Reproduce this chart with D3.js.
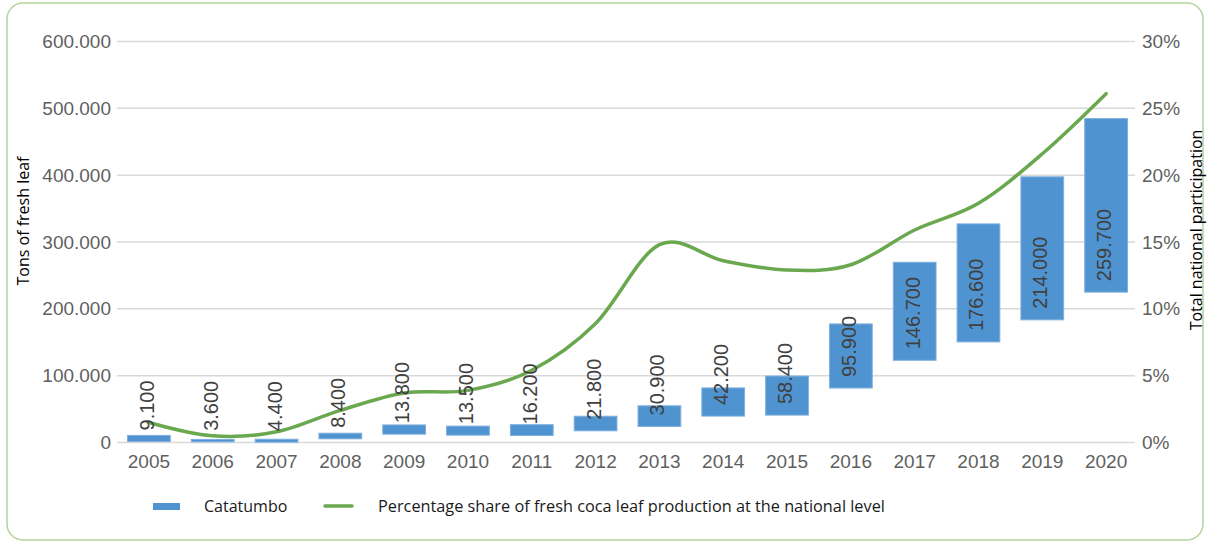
<!DOCTYPE html>
<html>
<head>
<meta charset="utf-8">
<script src="https://cdn.jsdelivr.net/npm/d3@7"></script>
<style>
  body { margin: 0; background: #fff; }
  svg text { font-family: "Liberation Sans", Arial, sans-serif; }
  .legend text, .axis-title { font-family: "Open Sans", sans-serif; }
</style>
</head>
<body>
<svg id="chart" width="1207" height="543"></svg>
<script>
// years on the x axis
const years = [2005, 2006, 2007, 2008, 2009, 2010, 2011, 2012, 2013, 2014, 2015, 2016, 2017, 2018, 2019, 2020];
// Catatumbo tons of fresh leaf (bar labels / bar heights)
const catatumbo = [9100, 3600, 4400, 8400, 13800, 13500, 16200, 21800, 30900, 42200, 58400, 95900, 146700, 176600, 214000, 259700];
// bars float: where each bar starts
const barBase = [1500, 1000, 500, 5500, 12500, 11000, 10500, 17500, 24000, 39500, 41000, 81500, 123000, 150500, 183500, 225000];
// percentage share of national production (right axis)
const share = [1.5, 0.5, 0.8, 2.4, 3.7, 3.9, 5.4, 8.9, 14.8, 13.6, 12.9, 13.3, 15.9, 17.9, 21.6, 26.1];
const leftTicks = [0, 100000, 200000, 300000, 400000, 500000, 600000];
const rightTicks = [0, 5, 10, 15, 20, 25, 30];

const svg = d3.select('#chart');

const plotLeft = 117, plotRight = 1138, plotTop = 41.5, plotBottom = 442.5;

const locale = d3.formatLocale({ decimal: ',', thousands: '.', grouping: [3], currency: ['', ''] });
const fmt = locale.format(',d');

const xScale = d3.scaleBand().domain(years).range([plotLeft, plotRight])
    .paddingInner(0.33).paddingOuter(0.165);
const yScale = d3.scaleLinear().domain([0, 600000]).range([plotBottom, plotTop]);
const y2Scale = d3.scaleLinear().domain([0, 30]).range([plotBottom, plotTop]);

// rounded frame
svg.append('rect')
    .attr('x', 7).attr('y', 3).attr('width', 1196).attr('height', 537)
    .attr('rx', 16)
    .attr('fill', 'none')
    .attr('stroke', '#b4d49c')
    .attr('stroke-width', 1.5);

// grid lines
svg.append('g')
    .selectAll('line')
    .data(leftTicks)
    .join('line')
    .attr('x1', plotLeft).attr('x2', 1135)
    .attr('y1', d => yScale(d)).attr('y2', d => yScale(d))
    .attr('stroke', '#d9d9d9')
    .attr('stroke-width', 1.5);

// left axis
const leftAxis = svg.append('g')
    .attr('transform', 'translate(' + (plotLeft - 6) + ',0)')
    .call(d3.axisLeft(yScale).tickValues(leftTicks).tickFormat(fmt).tickSize(0));
leftAxis.select('.domain').remove();
leftAxis.selectAll('.tick text')
    .attr('x', 0)
    .attr('fill', '#5f5f5f')
    .style('font-size', '19px');

// right axis
const rightAxis = svg.append('g')
    .attr('transform', 'translate(1142,0)')
    .call(d3.axisRight(y2Scale).tickValues(rightTicks).tickFormat(d => d + '%').tickSize(0));
rightAxis.select('.domain').remove();
rightAxis.selectAll('.tick text')
    .attr('x', 0)
    .attr('fill', '#5f5f5f')
    .style('font-size', '19px');

// x axis labels
const xAxis = svg.append('g')
    .attr('transform', 'translate(0,' + plotBottom + ')')
    .call(d3.axisBottom(xScale).tickSize(0));
xAxis.select('.domain').remove();
xAxis.selectAll('.tick text')
    .attr('y', 12)
    .attr('fill', '#5f5f5f')
    .style('font-size', '19px');

// bars
svg.append('g')
    .selectAll('rect')
    .data(years)
    .join('rect')
    .attr('x', d => xScale(d))
    .attr('width', xScale.bandwidth())
    .attr('y', (d, i) => yScale(barBase[i] + catatumbo[i]))
    .attr('height', (d, i) => yScale(barBase[i]) - yScale(barBase[i] + catatumbo[i]))
    .attr('fill', '#4f93d1')
    .attr('stroke', '#7fb0de')
    .attr('stroke-width', 1);

// share line
const line = d3.line()
    .x((d, i) => xScale(years[i]) + xScale.bandwidth() / 2)
    .y(d => y2Scale(d))
    .curve(d3.curveCatmullRom.alpha(0));
svg.append('path')
    .datum(share)
    .attr('d', line)
    .attr('fill', 'none')
    .attr('stroke', '#6aa84f')
    .attr('stroke-width', 3.5)
    .attr('stroke-linecap', 'round');

// bar labels, rotated
svg.append('g')
    .selectAll('text')
    .data(years)
    .join('text')
    .attr('transform', (d, i) => 'translate(' + (xScale(d) + xScale.bandwidth() / 2 - 2) + ',' + (yScale(barBase[i]) - 11) + ') rotate(-90)')
    .attr('dy', '0.35em')
    .attr('fill', '#404040')
    .style('font-size', '20px')
    .text((d, i) => fmt(catatumbo[i]));

// axis titles
svg.append('text')
    .attr('class', 'axis-title')
    .attr('transform', 'translate(29,221) rotate(-90)')
    .attr('text-anchor', 'middle')
    .attr('fill', '#000')
    .style('font-size', '16px')
    .text('Tons of fresh leaf');

svg.append('text')
    .attr('class', 'axis-title')
    .attr('transform', 'translate(1202,230) rotate(-90)')
    .attr('text-anchor', 'middle')
    .attr('fill', '#000')
    .style('font-size', '16px')
    .text('Total national participation');

// legend
const legend = svg.append('g').attr('class', 'legend');
legend.append('rect')
    .attr('x', 153).attr('y', 503).attr('width', 27).attr('height', 7)
    .attr('fill', '#4f93d1');
legend.append('text')
    .attr('x', 204).attr('y', 512)
    .attr('fill', '#1a1a1a')
    .style('font-size', '16px')
    .text('Catatumbo');
legend.append('line')
    .attr('x1', 325).attr('x2', 352).attr('y1', 506).attr('y2', 506)
    .attr('stroke', '#6aa84f').attr('stroke-width', 3.5)
    .attr('stroke-linecap', 'round');
legend.append('text')
    .attr('x', 378).attr('y', 512)
    .attr('fill', '#1a1a1a')
    .style('font-size', '16.3px')
    .text('Percentage share of fresh coca leaf production at the national level');
</script>
</body>
</html>
